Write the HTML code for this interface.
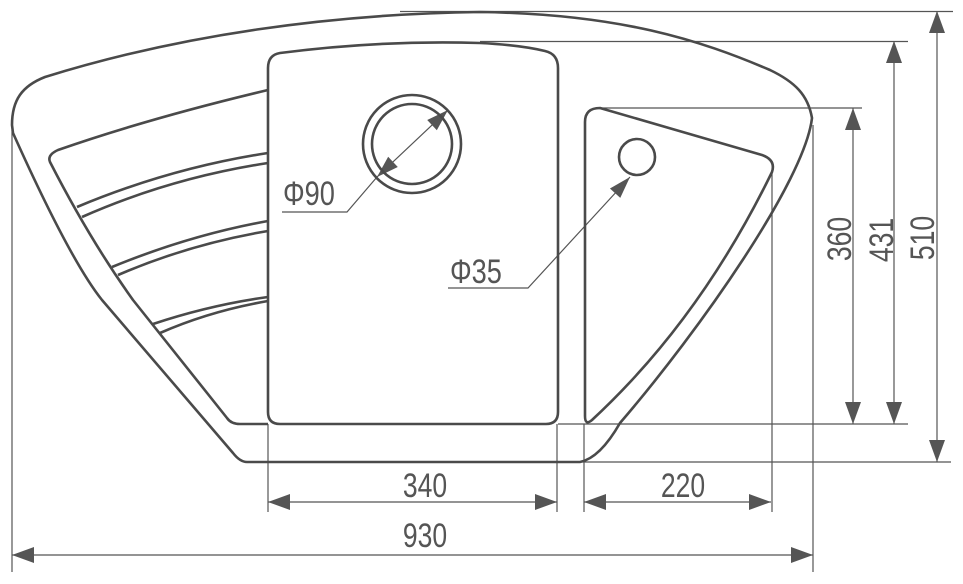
<!DOCTYPE html>
<html><head><meta charset="utf-8"><style>
html,body{margin:0;padding:0;background:#fff;}
svg{display:block;}
text{font-family:"Liberation Sans",sans-serif;fill:#555;}
</style></head><body>
<svg width="963" height="584" viewBox="0 0 963 584" xmlns="http://www.w3.org/2000/svg">
<g fill="none" stroke="#555" stroke-width="1.2">
<line x1="400" y1="11.5" x2="953" y2="11.5"/>
<line x1="480" y1="41.5" x2="908" y2="41.5"/>
<line x1="600" y1="108" x2="862" y2="108"/>
<line x1="558" y1="424" x2="908" y2="424"/>
<line x1="580" y1="462" x2="951" y2="462"/>
<line x1="12" y1="130" x2="12" y2="572"/>
<line x1="813" y1="125" x2="813" y2="572"/>
<line x1="268" y1="424" x2="268" y2="512"/>
<line x1="557" y1="424" x2="557" y2="512"/>
<line x1="584" y1="424" x2="584" y2="512"/>
<line x1="772" y1="170" x2="772" y2="512"/>
<line x1="853" y1="108" x2="853" y2="424"/>
<line x1="894" y1="41" x2="894" y2="424"/>
<line x1="937" y1="11" x2="937" y2="462"/>
<line x1="268" y1="502" x2="557" y2="502"/>
<line x1="584" y1="502" x2="771" y2="502"/>
<line x1="12" y1="555" x2="813" y2="555"/>
<polyline points="448,110 377,177 347,212 282,212"/>
<polyline points="630,177 528,288 448,288"/>
</g>
<g fill="#555">
<polygon points="853,108 845,130 861,130"/><polygon points="853,424 845,402 861,402"/>
<polygon points="894,41 886,63 902,63"/><polygon points="894,424 886,402 902,402"/>
<polygon points="937,11 929,33 945,33"/><polygon points="937,462 929,440 945,440"/>
<polygon points="268,502 290,494 290,510"/><polygon points="557,502 535,494 535,510"/>
<polygon points="584,502 606,494 606,510"/><polygon points="771,502 749,494 749,510"/>
<polygon points="12,555 34,547 34,563"/><polygon points="813,555 791,547 791,563"/>
<g transform="translate(448,110) rotate(136.6)"><polygon points="0,0 22,-7 22,7"/></g>
<g transform="translate(377,177) rotate(-43.4)"><polygon points="0,0 22,-7 22,7"/></g>
<g transform="translate(630,177) rotate(132.6)"><polygon points="0,0 22,-7 22,7"/></g>
</g>
<g fill="none" stroke="#4a4a4a" stroke-width="2.6" stroke-linejoin="round">
<path d="M247,462 L580,462 Q600,458 620,423 C700,330 805,180 812,118 C808,95 795,82 770,70 C700,40 620,14 480,12 C330,14 180,35 45,77 C22,86 12,100 12,125 L13,133 Q70,260 102,300 L233,453 Q240,462 247,462 Z"/>
<path d="M268,90 Q150,118 58,150 Q47,155 50,162 Q90,240 133,300 L227,418 Q231,424 240,424 L268,424"/>
<path d="M77,207 Q170,168 268,153"/>
<path d="M82,217 Q170,178 268,163"/>
<path d="M112,267 Q190,235 268,221"/>
<path d="M118,275 Q190,244 268,231"/>
<path d="M153,324 Q210,305 268,297"/>
<path d="M160,333 Q210,311 268,301"/>
<path d="M268,68 Q268,55 280,53 Q380,40 480,43 Q520,45 545,51 Q558,54 558,68 L558,412 Q558,424 546,424 L280,424 Q268,424 268,412 Z"/>
<path d="M600,108 L762,155 Q776,160 772,172 Q700,320 592,420 Q585,426 585,416 L585,122 Q585,108 600,108 Z"/>
<circle cx="412" cy="144" r="49"/>
<circle cx="412" cy="144" r="40"/>
<circle cx="637" cy="157" r="18"/>
</g>
<g font-size="34">
<text transform="translate(283,205) scale(0.8,1)">Φ90</text>
<text transform="translate(450,283) scale(0.8,1)">Φ35</text>
<text text-anchor="middle" transform="translate(425,497) scale(0.78,1)">340</text>
<text text-anchor="middle" transform="translate(683,497) scale(0.78,1)">220</text>
<text text-anchor="middle" transform="translate(425,547) scale(0.78,1)">930</text>
<text text-anchor="middle" transform="translate(851,239) rotate(-90) scale(0.78,1)">360</text>
<text text-anchor="middle" transform="translate(893,240) rotate(-90) scale(0.78,1)">431</text>
<text text-anchor="middle" transform="translate(934,238) rotate(-90) scale(0.78,1)">510</text>
</g>
</svg>
</body></html>
